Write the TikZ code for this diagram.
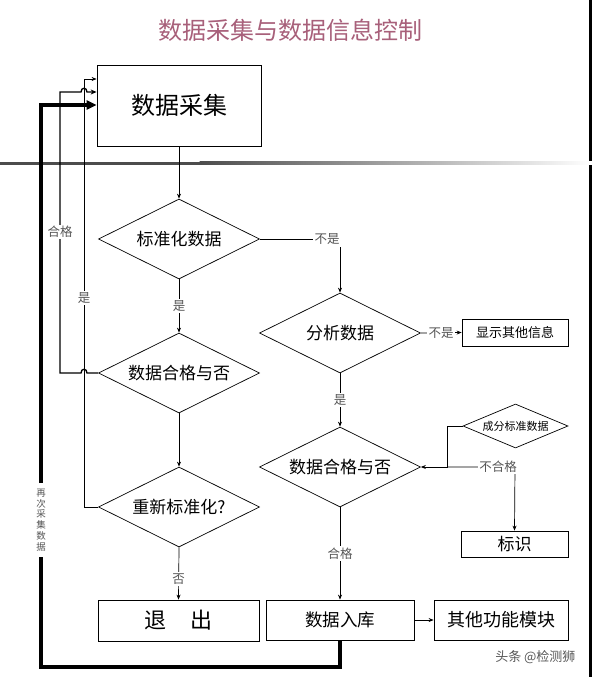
\documentclass[tikz,border=0pt]{standalone}
\usepackage{fontspec}
\setmainfont{Noto Sans CJK SC}
\usetikzlibrary{shapes.geometric,arrows.meta}
\definecolor{titlecol}{HTML}{A8607A}
\definecolor{lblcol}{HTML}{555555}
\tikzset{
  box/.style={draw,line width=0.8pt,rectangle,inner sep=0pt,align=center},
  dia/.style={draw,line width=0.7pt,diamond,aspect=2,inner sep=0pt,minimum width=161pt,minimum height=80pt,font=\fontsize{17}{17}\selectfont},
  conn/.style={line width=0.7pt},
  arr/.style={conn,-{Stealth[length=5pt,width=4pt]}},
  lbl/.style={fill=white,inner sep=1.5pt,text=lblcol,font=\fontsize{12.5}{12.5}\selectfont},
}
\begin{document}
\begin{tikzpicture}[x=1pt,y=-1pt]
\useasboundingbox (0,0) rectangle (592,677);
\fill[white] (0,0) rectangle (592,677);
% right edge bar
\fill[black] (589,0) rectangle (592,677);
% header rule
\fill[gray!60!black] (0,161.5) rectangle (200,164.5);
\shade[left color=gray!60!black,right color=white] (199.5,161.5) rectangle (592,164.5);
% title
\node[text=titlecol,font=\fontsize{24}{24}\selectfont] (title) at (290,30) {数据采集与数据信息控制};

% nodes
\node[box,minimum width=164pt,minimum height=81pt,font=\fontsize{24}{24}\selectfont] (b1) at (179,105.5) {数据采集};
\node[dia] (d1) at (179,239) {标准化数据};
\node[dia] (d2) at (179,373) {数据合格与否};
\node[dia] (d3) at (179,507) {重新标准化?};
\node[box,minimum width=161pt,minimum height=41pt,font=\fontsize{22}{22}\selectfont] (ex) at (178.5,620.5) {退\hspace{1.1em}出};
\node[dia] (d4) at (340,333) {分析数据};
\node[box,minimum width=106pt,minimum height=27pt,font=\fontsize{13}{13}\selectfont] (show) at (515,332.5) {显示其他信息};
\node[dia] (d5) at (340,467) {数据合格与否};
\node[draw,line width=0.7pt,diamond,aspect=2.4,inner sep=0pt,minimum width=105pt,minimum height=44pt,font=\fontsize{11}{11}\selectfont] (sd) at (515.5,426) {成分标准数据};
\node[box,minimum width=107pt,minimum height=26pt,font=\fontsize{17}{17}\selectfont] (mk) at (514.5,544) {标识};
\node[box,minimum width=148pt,minimum height=40pt,font=\fontsize{17.5}{17.5}\selectfont] (db) at (340,620) {数据入库};
\node[box,minimum width=134pt,minimum height=40pt,font=\fontsize{18}{18}\selectfont] (ot) at (501,620) {其他功能模块};

% coordinates
\coordinate (c1) at (340,239);
\coordinate (c2) at (447,426);
\coordinate (c3) at (447,467);
\coordinate (c4) at (515,467);
\coordinate (l1a) at (60,373);
\coordinate (l1b) at (60,92);
\coordinate (l2a) at (84,507);
\coordinate (l2b) at (84,79);
\coordinate (t1) at (340,667);
\coordinate (t2) at (41,667);
\coordinate (t3) at (41,557);
\coordinate (t4) at (41,483);
\coordinate (t5) at (41,105);

% main flow
\draw[arr] (b1.south) -- (d1.north);
\draw[arr] (d1.south) -- node[lbl,pos=0.5]{是} (d2.north);
\draw[arr] (d2.south) -- (d3.north);
\draw[arr] (d3.south) -- node[lbl,pos=0.6]{否} (ex.north);
\draw[arr] (d1.east) -- (c1) -- (d4.north);
\node[lbl] (lb1) at (327,239.5) {不是};
\draw[arr] (d4.east) -- node[lbl,pos=0.5]{不是} (show.west);
\draw[arr] (d4.south) -- node[lbl,pos=0.5]{是} (d5.north);
\draw[arr] (d5.south) -- node[lbl,pos=0.5]{合格} (db.north);
\draw[arr] (db.east) -- (ot.west);
\draw[arr] (sd.west) -- (c2) -- (c3) -- (d5.east);
\draw[arr] (c3) -- (c4) -- (mk.north);
\node[lbl] (lb2) at (498,467) {不合格};

% left loops
\draw[arr] (d3.west) -- (l2a) -- (l2b) -- (b1.west |- l2b);
\draw[conn,line width=1.3pt,-{Stealth[length=6pt,width=5pt]}] (d2.west) -- (87,373) .. controls (87,368) and (81,368) .. (81,373) -- (l1a) -- (l1b) -- (81,92) .. controls (81,87) and (87,87) .. (87,92) -- (b1.west |- l1b);
\node[lbl,fill=white] (lb3) at (60,232) {合格};
\node[lbl,fill=white] (lb4) at (84,298) {是};
\draw[line width=3.2pt] (db.south) -- (t1) -- (t2) -- (t3);
\draw[line width=3.2pt,-{Triangle[length=10pt,width=9pt]}] (t4) -- (t5) -- (b1.west |- t5);
\node[text=lblcol,font=\fontsize{9.5}{10.8}\selectfont,align=center,inner sep=0pt] (lb5) at (41,520) {再\\次\\采\\集\\数\\据};

% watermark
\node[text=gray!70!black,font=\fontsize{13}{13}\selectfont,anchor=east] (wm) at (579,657) {头条 @检测狮};
\end{tikzpicture}
\end{document}
